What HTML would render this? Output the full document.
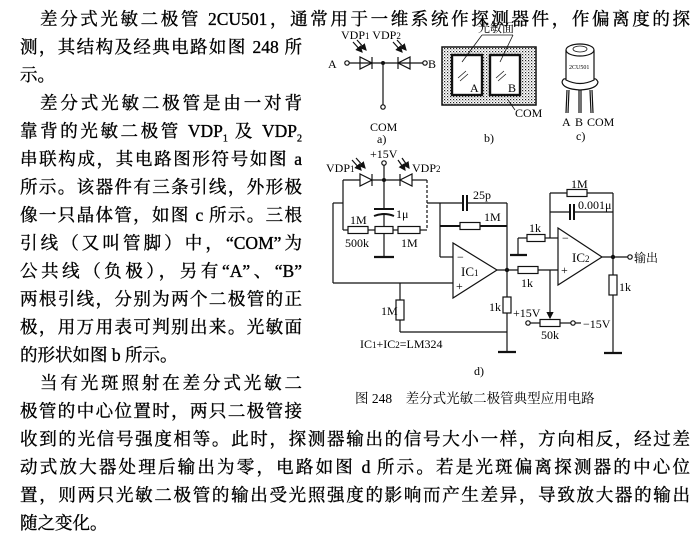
<!DOCTYPE html>
<html><head><meta charset="utf-8"><style>
body{margin:0;background:#fff;}
#p{position:relative;width:699px;height:550px;overflow:hidden;background:#fff;}
.l{position:absolute;height:24px;line-height:24px;font-size:17.5px;color:#000;-webkit-text-stroke:0.35px #000;
font-family:"Liberation Serif","Noto Serif CJK SC",serif;text-align:justify;text-align-last:justify;white-space:nowrap;}
.n{text-align-last:left;}
svg{position:absolute;left:0;top:0;}
svg text{font-family:"Liberation Serif","Noto Serif CJK SC",serif;fill:#000;}
</style></head><body><div id="p">
<div class="l" style="top:7px;left:40px;width:650px">差分式光敏二极管 2CU501，通常用于一维系统作探测器件，作偏离度的探</div>
<div class="l" style="top:35px;left:20px;width:282px">测，其结构及经典电路如图 248 所</div>
<div class="l n" style="top:63px;left:20px;width:282px">示。</div>
<div class="l" style="top:91px;left:40px;width:262px">差分式光敏二极管是由一对背</div>
<div class="l" style="top:119px;left:20px;width:282px">靠背的光敏二极管 VDP<sub style="font-size:10px">1</sub> 及 VDP<sub style="font-size:10px">2</sub></div>
<div class="l" style="top:147px;left:20px;width:282px">串联构成，其电路图形符号如图 a</div>
<div class="l" style="top:175px;left:20px;width:282px">所示。该器件有三条引线，外形极</div>
<div class="l" style="top:203px;left:20px;width:282px">像一只晶体管，如图 c 所示。三根</div>
<div class="l" style="top:231px;left:20px;width:282px">引线（又叫管脚）中，“COM”为</div>
<div class="l" style="top:259px;left:20px;width:282px">公共线（负极），另有“A”、“B”</div>
<div class="l" style="top:287px;left:20px;width:282px">两根引线，分别为两个二极管的正</div>
<div class="l" style="top:315px;left:20px;width:282px">极，用万用表可判别出来。光敏面</div>
<div class="l n" style="top:343px;left:20px;width:282px">的形状如图 b 所示。</div>
<div class="l" style="top:371px;left:40px;width:262px">当有光斑照射在差分式光敏二</div>
<div class="l" style="top:399px;left:20px;width:282px">极管的中心位置时，两只二极管接</div>
<div class="l" style="top:427px;left:20px;width:670px">收到的光信号强度相等。此时，探测器输出的信号大小一样，方向相反，经过差</div>
<div class="l" style="top:455px;left:20px;width:670px">动式放大器处理后输出为零，电路如图 d 所示。若是光斑偏离探测器的中心位</div>
<div class="l" style="top:483px;left:20px;width:670px">置，则两只光敏二极管的输出受光照强度的影响而产生差异，导致放大器的输出</div>
<div class="l n" style="top:511px;left:20px;width:670px">随之变化。</div>

<svg width="699" height="550" viewBox="0 0 699 550">
<defs>
<pattern id="dots" width="3" height="3" patternUnits="userSpaceOnUse">
<rect x="0" y="0" width="1.2" height="1.2" fill="#222"/><rect x="1.5" y="1.5" width="1" height="1" fill="#555"/>
</pattern>
<marker id="ar" markerWidth="6" markerHeight="6" refX="5" refY="3" orient="auto"><path d="M0,0 L6,3 L0,6 z" fill="#111"/></marker>
</defs>
<g stroke="#111" stroke-width="1.2" fill="none">
<!-- fig a -->
<circle cx="347" cy="63" r="2.2"/>
<line x1="349" y1="63" x2="423" y2="63"/>
<polygon points="360,57 360,69 372,63"/><line x1="372" y1="57" x2="372" y2="69"/>
<polygon points="410,57 410,69 398,63"/><line x1="398" y1="57" x2="398" y2="69"/>
<circle cx="425" cy="63" r="2.2"/>
<line x1="383" y1="63" x2="383" y2="105"/><circle cx="383" cy="107" r="2.2"/>
<line x1="353" y1="42" x2="362" y2="52" marker-end="url(#ar)"/><line x1="357" y1="40" x2="366" y2="50" marker-end="url(#ar)"/>
<line x1="393" y1="42" x2="402" y2="52" marker-end="url(#ar)"/><line x1="397" y1="40" x2="406" y2="50" marker-end="url(#ar)"/>
<!-- fig b -->
<rect x="442" y="47" width="94" height="58" fill="url(#dots)" stroke-width="1.5"/>
<rect x="452" y="55" width="30" height="40" fill="#fff" stroke-width="2.4"/>
<rect x="490" y="55" width="30" height="40" fill="#fff" stroke-width="2.4"/>
<line x1="482" y1="35" x2="462" y2="62" stroke-width="0.8"/><line x1="513" y1="35" x2="500" y2="62" stroke-width="0.8"/>
<line x1="482" y1="35" x2="513" y2="35" stroke-width="0.8"/>
<line x1="508" y1="100" x2="515" y2="110" stroke-width="0.8"/>
<line x1="458" y1="78" x2="466" y2="71" stroke-width="0.7"/><line x1="460" y1="81" x2="468" y2="74" stroke-width="0.7"/>
<line x1="496" y1="78" x2="504" y2="71" stroke-width="0.7"/><line x1="498" y1="81" x2="506" y2="74" stroke-width="0.7"/>
<!-- fig c -->
<path d="M566,50 L566,80 Q580,87 594,80 L594,50"/>
<ellipse cx="580" cy="50" rx="14" ry="6"/>
<ellipse cx="580" cy="49" rx="7" ry="3" stroke-width="0.8"/>
<path d="M562,82 Q563,89 580,90 Q597,89 598,82 Q596,78 594,79"/>
<path d="M562,82 Q563,78 566,79"/>
<line x1="567" y1="90" x2="566" y2="113"/><line x1="569" y1="90" x2="568" y2="113"/>
<line x1="579" y1="90" x2="579" y2="113"/><line x1="581" y1="90" x2="581" y2="113"/>
<line x1="590" y1="90" x2="591" y2="113"/><line x1="592" y1="90" x2="593" y2="113"/>
<!-- fig d -->
<circle cx="384" cy="163" r="2.2"/><line x1="384" y1="165" x2="384" y2="180"/>
<line x1="343" y1="180" x2="360" y2="180"/><polygon points="360,174 360,186 372,180"/><line x1="372" y1="174" x2="372" y2="186"/>
<line x1="372" y1="180" x2="400" y2="180"/><polygon points="412,174 412,186 400,180"/><line x1="400" y1="174" x2="400" y2="186"/>
<line x1="412" y1="180" x2="427" y2="180"/>
<line x1="352" y1="160" x2="361" y2="170" marker-end="url(#ar)"/><line x1="356" y1="158" x2="365" y2="168" marker-end="url(#ar)"/>
<line x1="398" y1="160" x2="405" y2="170" marker-end="url(#ar)"/><line x1="402" y1="158" x2="409" y2="168" marker-end="url(#ar)"/>
<line x1="343" y1="180" x2="343" y2="230"/>
<line x1="427" y1="180" x2="427" y2="230" stroke-dasharray="3,2"/>
<line x1="343" y1="230" x2="348" y2="230"/><rect x="348" y="226.5" width="20" height="7"/>
<line x1="368" y1="230" x2="375" y2="230"/><rect x="375" y="226.5" width="18" height="7"/>
<line x1="393" y1="230" x2="398" y2="230"/><rect x="398" y="226.5" width="22" height="7"/>
<line x1="420" y1="230" x2="427" y2="230"/>
<line x1="384" y1="180" x2="384" y2="209"/><line x1="374" y1="209" x2="394" y2="209" stroke-width="2"/>
<path d="M374,216 Q384,212 394,216" stroke-width="2"/><line x1="384" y1="214" x2="384" y2="226"/>
<line x1="384" y1="233" x2="384" y2="257"/><line x1="374" y1="257" x2="394" y2="257" stroke-width="2.2"/>
<line x1="343" y1="203" x2="333" y2="203"/><line x1="333" y1="203" x2="333" y2="283"/><line x1="333" y1="283" x2="453" y2="283"/>
<line x1="427" y1="203" x2="463" y2="203"/>
<line x1="463" y1="195" x2="463" y2="211" stroke-width="2"/><line x1="467" y1="195" x2="467" y2="211" stroke-width="2"/>
<line x1="467" y1="203" x2="507" y2="203"/><line x1="507" y1="203" x2="507" y2="352"/>
<line x1="440" y1="226" x2="460" y2="226" stroke-width="2"/><rect x="460" y="222.5" width="20" height="7"/><line x1="480" y1="226" x2="507" y2="226" stroke-width="2"/>
<line x1="440" y1="203" x2="440" y2="257"/><line x1="440" y1="257" x2="453" y2="257"/>
<polygon points="453,243 453,298 497,270"/>
<line x1="497" y1="270" x2="518" y2="270"/>
<rect x="503" y="297" width="8" height="16" fill="#fff"/>
<line x1="498" y1="352" x2="516" y2="352" stroke-width="2.2"/>
<line x1="400" y1="283" x2="400" y2="300"/><rect x="396" y="300" width="8" height="20"/><line x1="400" y1="320" x2="400" y2="332"/>
<line x1="400" y1="332" x2="507" y2="332"/>
<rect x="518" y="266.5" width="20" height="7"/><line x1="538" y1="270" x2="558" y2="270"/>
<line x1="550" y1="270" x2="550" y2="318" marker-end="url(#ar)"/>
<rect x="540" y="319.5" width="20" height="7"/>
<circle cx="528" cy="323" r="2.2"/><line x1="530" y1="323" x2="540" y2="323"/>
<line x1="560" y1="323" x2="571" y2="323"/><circle cx="573" cy="323" r="2.2"/><line x1="575" y1="323" x2="581" y2="323"/>
<polygon points="558,228 558,285 602,257"/>
<line x1="518" y1="238" x2="527" y2="238"/><rect x="527" y="234.5" width="18" height="7"/><line x1="545" y1="238" x2="558" y2="238"/>
<line x1="518" y1="238" x2="518" y2="255"/><line x1="510" y1="255" x2="527" y2="255" stroke-width="2.2"/>
<line x1="550" y1="238" x2="550" y2="193"/><line x1="550" y1="193" x2="567" y2="193"/><rect x="567" y="189.5" width="20" height="7"/><line x1="587" y1="193" x2="613" y2="193"/>
<line x1="550" y1="212" x2="570" y2="212"/><line x1="570" y1="204" x2="570" y2="220" stroke-width="2"/><line x1="574" y1="204" x2="574" y2="220" stroke-width="2"/><line x1="574" y1="212" x2="613" y2="212"/>
<line x1="613" y1="193" x2="613" y2="275"/><line x1="602" y1="257" x2="628" y2="257"/><circle cx="630" cy="257" r="2.2"/>
<rect x="609" y="275" width="8" height="20"/><line x1="613" y1="295" x2="613" y2="353"/><line x1="604" y1="353" x2="622" y2="353" stroke-width="2.2"/>
</g>
<g fill="#111">
<circle cx="383" cy="63" r="2"/><circle cx="384" cy="180" r="2"/><circle cx="507" cy="270" r="2.2"/><circle cx="613" cy="257" r="2.2"/>
</g>
<g font-size="12">
<text x="341" y="39">VDP<tspan font-size="9">1</tspan> VDP<tspan font-size="9">2</tspan></text>
<text x="328" y="68">A</text><text x="428" y="68">B</text>
<text x="370" y="131">COM</text><text x="377" y="143">a)</text>
<text x="478" y="32" font-size="12">光敏面</text>
<text x="470" y="92">A</text><text x="508" y="92">B</text>
<text x="515" y="117">COM</text><text x="484" y="142">b)</text>
<text x="569" y="69" font-size="6">2CU501</text>
<text x="562" y="126">A</text><text x="575" y="126">B</text><text x="587" y="126">COM</text>
<text x="576" y="140">c)</text>
<text x="370" y="158">+15V</text>
<text x="326" y="172">VDP<tspan font-size="9">1</tspan></text><text x="412" y="172">VDP<tspan font-size="9">2</tspan></text>
<text x="350" y="224">1M</text><text x="345" y="247">500k</text><text x="401" y="247">1M</text>
<text x="396" y="218">1μ</text>
<text x="473" y="199">25p</text><text x="484" y="221">1M</text>
<text x="461" y="276" font-size="13">IC<tspan font-size="9">1</tspan></text>
<text x="457" y="261">−</text><text x="456" y="290">+</text>
<text x="489" y="311">1k</text><text x="381" y="315">1M</text>
<text x="360" y="348">IC<tspan font-size="9">1</tspan>+IC<tspan font-size="9">2</tspan>=LM324</text>
<text x="474" y="375">d)</text>
<text x="521" y="287">1k</text>
<text x="513" y="317">+15V</text><text x="583" y="328">−15V</text><text x="541" y="339">50k</text>
<text x="572" y="262" font-size="13">IC<tspan font-size="9">2</tspan></text>
<text x="562" y="242">−</text><text x="561" y="274">+</text>
<text x="529" y="232">1k</text>
<text x="571" y="188">1M</text><text x="578" y="209">0.001μ</text>
<text x="634" y="262">输出</text><text x="619" y="291">1k</text>
<text x="355" y="403" font-size="13.5">图 248　差分式光敏二极管典型应用电路</text>
</g>
</svg>
</div></body></html>
